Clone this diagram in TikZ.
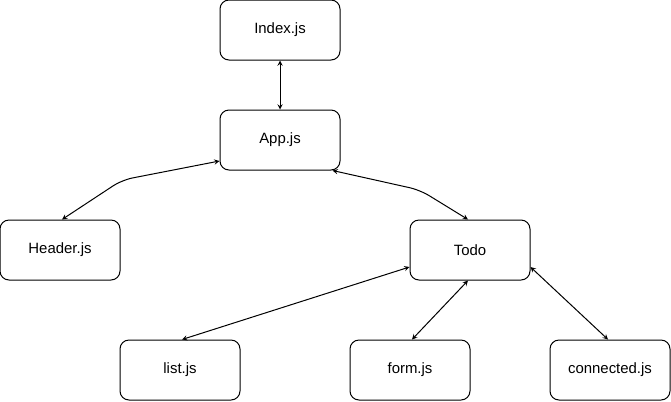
\documentclass[tikz,border=0pt]{standalone}
\usepackage{fontspec}
\setmainfont{Liberation Sans}
\usetikzlibrary{calc,arrows,positioning}

\begin{document}
\begin{tikzpicture}[x=0.75pt,y=-0.75pt, line width=0.75pt, >=stealth,
    every node/.style={font=\fontsize{11.2}{13}\selectfont},
    file/.style={draw, rounded corners=6.75pt, minimum width=90pt, minimum height=45pt, inner sep=0pt}]
        \useasboundingbox (0,0) rectangle (671,401);
        \node[file] (index) at (280,30) {Index.js};
        \node[file] (app) at (280,140) {App.js};
        \node[file] (header) at (60,250) {Header.js};
        \node[file] (todo) at (470,250) {Todo};
        \node[file] (list) at (180,370) {list.js};
        \node[file] (form) at (410,370) {form.js};
        \node[file] (connected) at (610,370) {connected.js};

        \coordinate (b1) at (122,180);
        \coordinate (b2) at (420,190);

        \draw[<->] (index) -- (app);
        \draw[<->, rounded corners=8pt] ($(app.west)+(0,21)$) -- (b1) -- ($(header.north)+(2,0)$);
        \draw[<->, rounded corners=8pt] ($(app.south east)+(-8,0)$) -- (b2) -- ($(todo.north)+(-2,0)$);
        \draw[<->] ($(todo.west)+(0,17)$) -- ($(list.north)+(2,0)$);
        \draw[<->] ($(todo.south)+(-2,0)$) -- ($(form.north)+(2,0)$);
        \draw[<->] ($(todo.east)+(0,17)$) -- ($(connected.north)+(-2,0)$);
    \end{tikzpicture}
\end{document}
